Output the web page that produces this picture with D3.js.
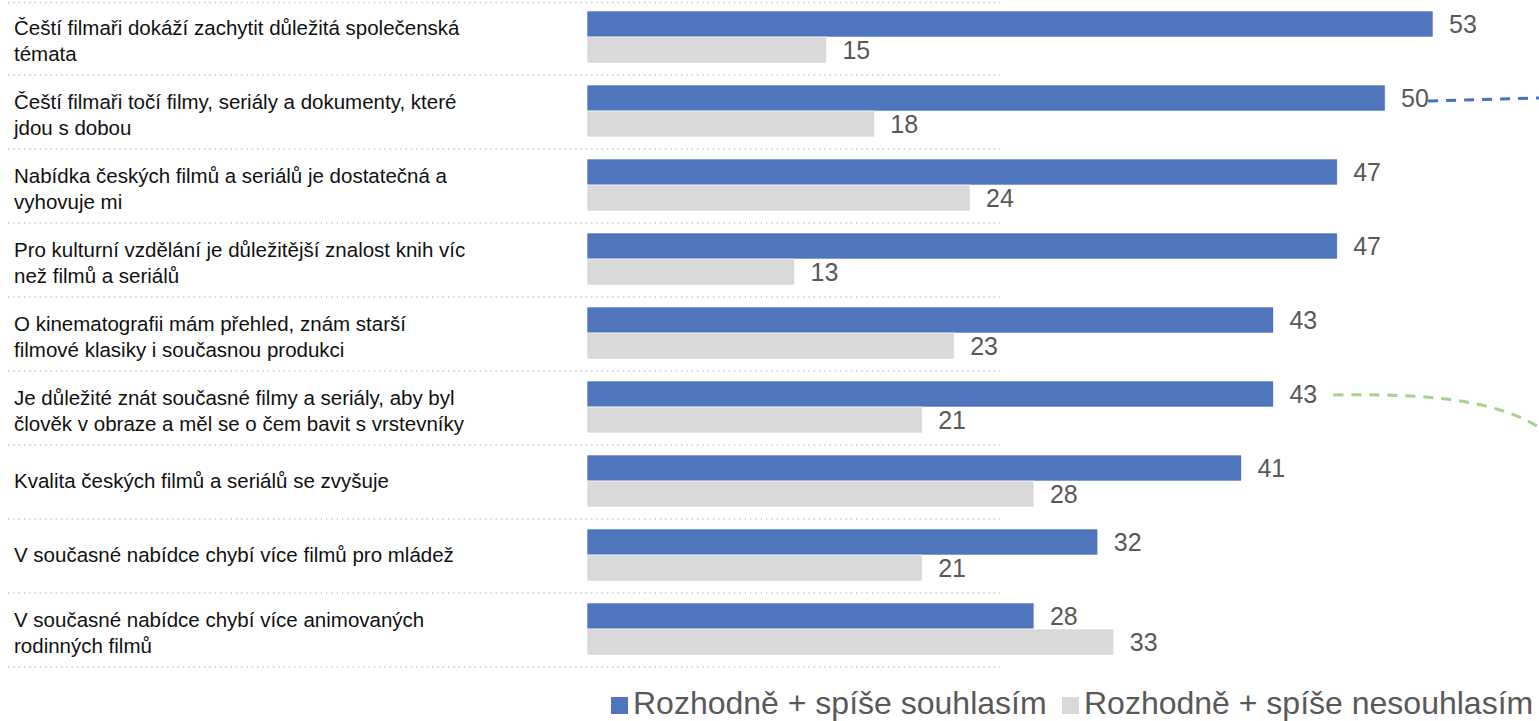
<!DOCTYPE html>
<html lang="cs">
<head>
<meta charset="utf-8">
<script src="https://cdn.jsdelivr.net/npm/d3@7/dist/d3.min.js"></script>
<style>
  html, body { margin: 0; padding: 0; background: #fff; }
  svg { display: block; font-family: "Liberation Sans", Arial, sans-serif; }
</style>
</head>
<body>
<svg id="chart" width="1539" height="721"></svg>
<script>
// Statements (each entry is the wrapped lines of one label)
const statements = [
  ["Čeští filmaři dokáží zachytit důležitá společenská", "témata"],
  ["Čeští filmaři točí filmy, seriály a dokumenty, které", "jdou s dobou"],
  ["Nabídka českých filmů a seriálů je dostatečná a", "vyhovuje mi"],
  ["Pro kulturní vzdělání je důležitější znalost knih víc", "než filmů a seriálů"],
  ["O kinematografii mám přehled, znám starší", "filmové klasiky i současnou produkci"],
  ["Je důležité znát současné filmy a seriály, aby byl", "člověk v obraze a měl se o čem bavit s vrstevníky"],
  ["Kvalita českých filmů a seriálů se zvyšuje"],
  ["V současné nabídce chybí více filmů pro mládež"],
  ["V současné nabídce chybí více animovaných", "rodinných filmů"]
];
// Share of respondents (%)
const agree    = [53, 50, 47, 47, 43, 43, 41, 32, 28];
const disagree = [15, 18, 24, 13, 23, 21, 28, 21, 33];
const seriesNames = ["Rozhodně + spíše souhlasím", "Rozhodně + spíše nesouhlasím"];

const BLUE = "#4F75BC", GREY = "#D9D9D9", TEXT_GREY = "#595959";

const svg = d3.select("#chart");
const rows = d3.range(statements.length);

const y = d3.scaleBand().domain(rows).range([0, 666]).paddingInner(0).paddingOuter(0);
const x = d3.scaleLinear().domain([0, 53]).range([587, 1433]);
const barH = 26;
const barTop = 11;

// dotted row separators
const sepYs = d3.range(rows.length + 1).map(i => Math.max(2.5, i * y.bandwidth() + 1));
svg.append("g").selectAll("line").data(sepYs).join("line")
  .attr("x1", 8).attr("x2", 1000)
  .attr("y1", d => d).attr("y2", d => d)
  .attr("stroke", "#c4c4c4").attr("stroke-width", 1.4)
  .attr("stroke-dasharray", "1.4 3.9");

// statement labels
const lab = svg.append("g").selectAll("text").data(rows).join("text")
  .attr("x", 14)
  .attr("font-size", 20.5)
  .attr("fill", "#111");
lab.each(function(i) {
  const lines = statements[i];
  const cy = y(i) + barTop + barH + (lines.length > 1 ? 4 : 0);
  const lh = 25.5;
  const start = cy - (lines.length - 1) * lh / 2;
  d3.select(this).selectAll("tspan").data(lines).join("tspan")
    .attr("x", 14)
    .attr("y", (d, k) => start + k * lh)
    .attr("dy", "0.35em")
    .text(d => d);
});

// bars
const g = svg.append("g");
g.selectAll("rect.agree").data(rows).join("rect").attr("class", "agree")
  .attr("x", x(0)).attr("y", i => y(i) + barTop)
  .attr("width", i => x(agree[i]) - x(0)).attr("height", barH)
  .attr("fill", BLUE).attr("stroke", "#fff").attr("stroke-width", 0.6);
g.selectAll("rect.disagree").data(rows).join("rect").attr("class", "disagree")
  .attr("x", x(0)).attr("y", i => y(i) + barTop + barH)
  .attr("width", i => x(disagree[i]) - x(0)).attr("height", barH)
  .attr("fill", GREY).attr("stroke", "#fff").attr("stroke-width", 0.6);

// value labels
g.selectAll("text.va").data(rows).join("text").attr("class", "va")
  .attr("x", i => x(agree[i]) + 16).attr("y", i => y(i) + barTop + barH / 2)
  .attr("dy", "0.36em").attr("font-size", 25).attr("fill", TEXT_GREY)
  .text(i => agree[i]);
g.selectAll("text.vd").data(rows).join("text").attr("class", "vd")
  .attr("x", i => x(disagree[i]) + 16).attr("y", i => y(i) + barTop + barH * 1.5)
  .attr("dy", "0.36em").attr("font-size", 25).attr("fill", TEXT_GREY)
  .text(i => disagree[i]);

// annotation connectors leading off to the right
const yA = i => y(i) + barTop + barH / 2;
const conn = svg.append("g").attr("fill", "none").attr("stroke-width", 3)
  .attr("stroke-dasharray", "10 8");
conn.append("path")
  .attr("d", `M${x(agree[1]) + 43},${yA(1) + 3} L1539,${yA(1)}`)
  .attr("stroke", "#4472C4");
const gx = x(agree[5]) + 60, gy = yA(5) + 1;
conn.append("path")
  .attr("d", `M${gx},${gy} C${gx + 110},${gy - 2} ${gx + 170},${gy + 8} 1545,${gy + 36}`)
  .attr("stroke", "#A9D18E");

// legend
const leg = svg.append("g").attr("font-size", 32).attr("fill", TEXT_GREY);
const legItems = [
  { name: seriesNames[0], color: BLUE, x: 611 },
  { name: seriesNames[1], color: GREY, x: 1062 }
];
const li = leg.selectAll("g").data(legItems).join("g")
  .attr("transform", d => `translate(${d.x},697)`);
li.append("rect").attr("width", 17).attr("height", 17).attr("fill", d => d.color);
li.append("text").attr("x", 22).attr("y", 16.5).text(d => d.name);
</script>
</body>
</html>
